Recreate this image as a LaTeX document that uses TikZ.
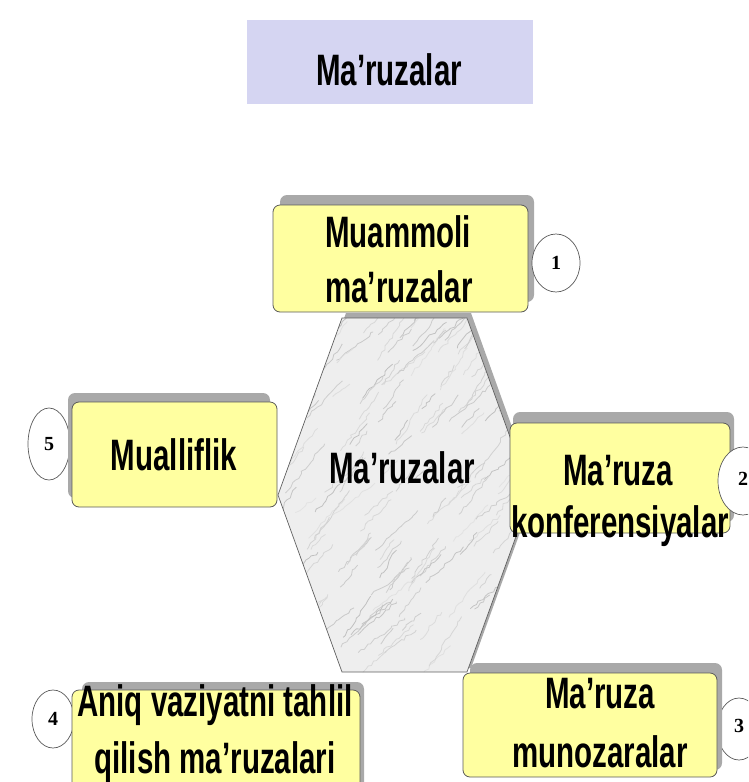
\documentclass[tikz,border=0pt]{standalone}
\usepackage{fontspec}
\usetikzlibrary{shapes.geometric,decorations.pathmorphing}
\newfontfamily\narfont[FakeStretch=0.67]{Liberation Sans}
\newfontfamily\numfont{Liberation Serif}
\definecolor{boxyellow}{HTML}{FFFFA0}
\definecolor{titlefill}{HTML}{D5D5F2}
\definecolor{shadowgray}{HTML}{A9A9A9}
\definecolor{edgegray}{HTML}{5A5A5A}
\tikzset{
  box/.style={draw=edgegray, line width=0.8pt, fill=boxyellow, rounded corners=7pt, inner sep=0pt},
  shade box/.style={fill=shadowgray, rounded corners=7pt},
  lbl/.style={font=\narfont\bfseries\fontsize{44}{59}\selectfont, inner sep=0pt, anchor=base},
  numc/.style={ellipse, draw=edgegray, line width=0.7pt, fill=white, inner sep=0pt,
    font=\numfont\bfseries\fontsize{20}{22}\selectfont},
}
\begin{document}
\begin{tikzpicture}[x=1pt,y=-1pt]
\useasboundingbox (0,0) rectangle (748,782);
\clip (0,0) rectangle (748,782);

% title
\node[fill=titlefill, minimum width=286pt, minimum height=84pt, inner sep=0pt] (title) at (389.5,62) {};
\node[lbl] (titletext) at (389,85) {Ma’ruzalar};

% hexagon shadow and hexagon
\fill[shadowgray] (346,313) -- (471,313) -- (535,491) -- (471,668) -- (346,668) -- (282,491) -- cycle;
\begin{scope}
\clip (342,318) -- (467,318) -- (531,495) -- (467,672) -- (342,672) -- (278,495) -- cycle;
\fill[gray!13] (270,310) rectangle (540,680);
\pgfmathsetseed{7}
\foreach \i in {1,...,170}{
  \pgfmathsetmacro\xa{270+270*rnd}
  \pgfmathsetmacro\ya{310+370*rnd}
  \pgfmathsetmacro\len{18+45*rnd}
  \pgfmathsetmacro\ang{-35-25*rnd}
  \pgfmathsetmacro\gr{22+28*rnd}
  \draw[gray!\gr, line width=0.8pt, decorate, decoration={random steps, segment length=4pt, amplitude=1.5pt}] (\xa,\ya) -- ++(\ang:\len);
}
\end{scope}
\node[inner sep=0pt, minimum size=1pt] (hex) at (404.5,495) {};
\draw[gray!75!black, line width=0.7pt] (342,318) -- (467,318) -- (531,495) -- (467,672) -- (342,672) -- (278,495) -- cycle;
\node[lbl] (hextext) at (402,483) {Ma’ruzalar};

% circles behind boxes
\node[numc, minimum width=42pt, minimum height=72pt] (c5) at (49,444) {5};
\node[numc, minimum width=42pt, minimum height=58pt] (c4) at (53,719) {\raisebox{-4pt}{4}};
\node[numc, minimum width=44pt, minimum height=62pt] (c3) at (739,729) {\raisebox{6pt}{3}};

% shadows of boxes
\fill[shade box] (280,195) rectangle (534,302);
\fill[shade box] (68,393) rectangle (270,498);
\fill[shade box] (513,412) rectangle (734,522);
\fill[shade box] (82,682) rectangle (364,800);
\fill[shade box] (470,663) rectangle (722,770);

% boxes
\node[box, minimum width=255pt, minimum height=107pt] (b1) at (400.5,258.5) {};
\node[box, minimum width=205pt, minimum height=105pt] (b5) at (174.5,454.5) {};
\node[box, minimum width=220pt, minimum height=110pt] (b2) at (620,478) {};
\node[box, minimum width=288pt, minimum height=120pt] (b4) at (216,750) {};
\node[box, minimum width=254pt, minimum height=104pt] (b3) at (590,725) {};

% box texts
\node[lbl] (t1a) at (398,247) {Muammoli};
\node[lbl] (t1b) at (399,302) {ma’ruzalar};
\node[lbl] (t5) at (174,470) {Mualliflik};
\node[lbl] (t2a) at (618,485) {Ma’ruza};
\node[lbl] (t2b) at (620,537) {konferensiyalar};
\node[lbl] (t4a) at (215,716) {Aniq vaziyatni tahlil};
\node[lbl] (t4b) at (215,773) {qilish ma’ruzalari};
\node[lbl] (t3a) at (600,708) {Ma’ruza};
\node[lbl] (t3b) at (600,767) {munozaralar};

% circles in front
\node[numc, minimum width=48pt, minimum height=58pt] (c1) at (556,263) {1};
\node[numc, minimum width=50pt, minimum height=68pt] (c2) at (743,481) {\raisebox{4pt}{2}};
\end{tikzpicture}
\end{document}
